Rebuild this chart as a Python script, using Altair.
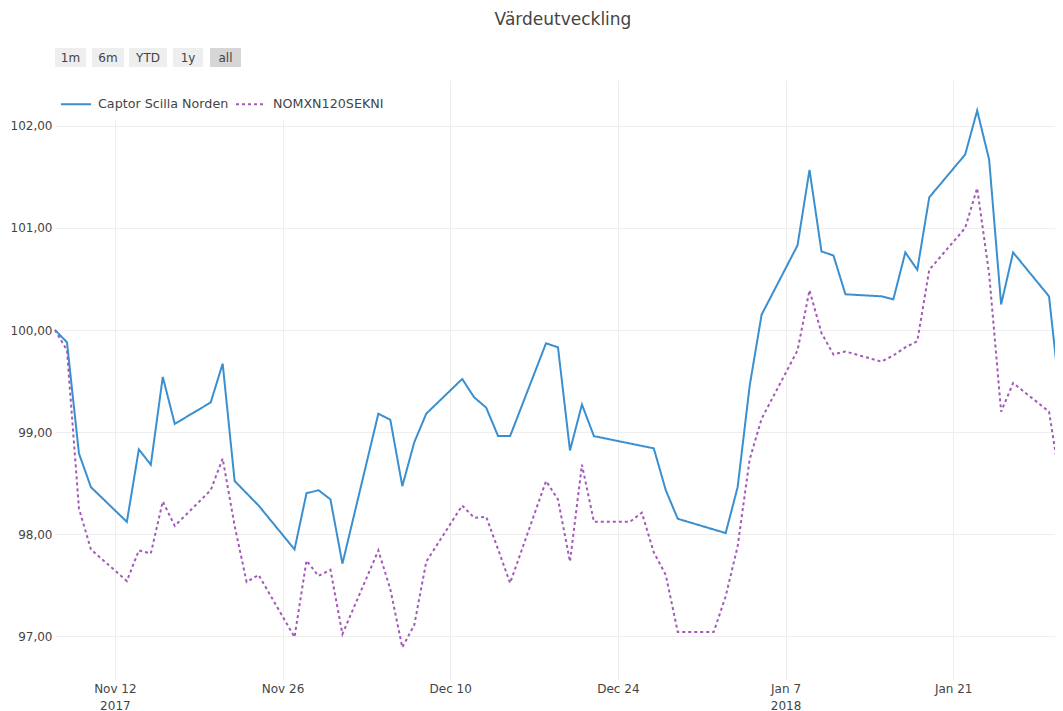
import altair as alt
import pandas as pd

# ---- data -------------------------------------------------------------
title_text = "Värdeutveckling"
series_names = ["Captor Scilla Norden", "NOMXN120SEKNI"]
series_colors = ["#3a8fd0", "#a25ab8"]

dates = [
    "2017-11-07", "2017-11-08", "2017-11-09", "2017-11-10", "2017-11-13", "2017-11-14",
    "2017-11-15", "2017-11-16", "2017-11-17", "2017-11-20", "2017-11-21", "2017-11-22",
    "2017-11-23", "2017-11-24", "2017-11-27", "2017-11-28", "2017-11-29", "2017-11-30",
    "2017-12-01", "2017-12-04", "2017-12-05", "2017-12-06", "2017-12-07", "2017-12-08",
    "2017-12-11", "2017-12-12", "2017-12-13", "2017-12-14", "2017-12-15", "2017-12-18",
    "2017-12-19", "2017-12-20", "2017-12-21", "2017-12-22", "2017-12-25", "2017-12-26",
    "2017-12-27", "2017-12-28", "2017-12-29", "2018-01-01", "2018-01-02", "2018-01-03",
    "2018-01-04", "2018-01-05", "2018-01-08", "2018-01-09", "2018-01-10", "2018-01-11",
    "2018-01-12", "2018-01-15", "2018-01-16", "2018-01-17", "2018-01-18", "2018-01-19",
    "2018-01-22", "2018-01-23", "2018-01-24", "2018-01-25", "2018-01-26", "2018-01-29",
    "2018-01-30",
]

fund_values = [
    100.00, 99.88, 98.79, 98.46, 98.12, 98.83,
    98.68, 99.54, 99.08, 99.29, 99.67, 98.52,
    98.40, 98.28, 97.85, 98.40, 98.43, 98.34,
    97.71, 99.18, 99.12, 98.47, 98.90, 99.18,
    99.52, 99.34, 99.24, 98.96, 98.96, 99.87,
    99.83, 98.82, 99.27, 98.96, None, None,
    98.84, 98.43, 98.15, None, 98.01, 98.46,
    99.45, 100.15, 100.83, 101.57, 100.77, 100.73,
    100.35, 100.33, 100.30, 100.76, 100.59, 101.30,
    101.72, 102.15, 101.67, 100.25, 100.76, 100.33,
    99.26,
]

index_values = [
    100.00, 99.80, 98.25, 97.85, 97.54, 97.84,
    97.81, 98.32, 98.08, 98.43, 98.74, 98.08,
    97.53, 97.60, 96.99, 97.74, 97.59, 97.65,
    97.02, 97.84, 97.46, 96.89, 97.11, 97.73,
    98.28, 98.16, 98.17, 97.85, 97.52, 98.52,
    98.34, 97.73, 98.68, 98.12, 98.12, 98.21,
    97.82, 97.60, 97.04, 97.04, 97.39, 97.88,
    98.73, 99.13, 99.80, 100.39, 99.97, 99.76,
    99.79, 99.69, 99.75, 99.83, 99.89, 100.59,
    101.00, 101.39, 100.55, 99.20, 99.48, 99.20,
    98.46,
]

x_tick_dates = ["2017-11-12", "2017-11-26", "2017-12-10", "2017-12-24", "2018-01-07", "2018-01-21"]
y_ticks = [97, 98, 99, 100, 101, 102]
x_domain = ["2017-11-07", "2018-01-30"]
y_domain = [96.57, 102.45]

button_labels = ["1m", "6m", "YTD", "1y", "all"]

# ---- tables -----------------------------------------------------------
rows = []
for d, f, i in zip(dates, fund_values, index_values):
    if f is not None:
        rows.append({"date": d, "series": series_names[0], "value": f})
    if i is not None:
        rows.append({"date": d, "series": series_names[1], "value": i})
df = pd.DataFrame(rows)

def ms(s):
    return int(pd.Timestamp(s, tz="UTC").value // 10**6)

x_tick_ms = [ms(s) for s in x_tick_dates]
x_domain_ms = [ms(s) for s in x_domain]

FONT = "DejaVu Sans"
TXT = "#444444"
GRID = "#eeeeee"

label_expr_x = (
    "((utcmonth(datum.value)==10 && utcdate(datum.value)==12) || "
    "(utcmonth(datum.value)==0 && utcdate(datum.value)==7)) ? "
    "[utcFormat(datum.value, '%b %-d'), utcFormat(datum.value, '%Y')] : "
    "utcFormat(datum.value, '%b %-d')"
)

# the plotted range runs slightly past the visible page edge, as in the original
lines = alt.Chart(df).mark_line(strokeWidth=2).encode(
    x=alt.X(
        "date:T",
        scale=alt.Scale(type="utc", domain=x_domain_ms, nice=False, range=[0, 1006]),
        axis=alt.Axis(
            values=x_tick_ms, labelExpr=label_expr_x, grid=True, gridColor=GRID,
            domain=False, ticks=False, labelFont=FONT, labelFontSize=12,
            labelColor=TXT, labelPadding=3, labelLineHeight=17,
            labelOverlap=False, labelFlush=False, title=None,
        ),
    ),
    y=alt.Y(
        "value:Q",
        scale=alt.Scale(domain=y_domain, nice=False, zero=False),
        axis=alt.Axis(
            values=y_ticks, labelExpr="replace(format(datum.value, '.2f'), '.', ',')",
            grid=True, gridColor=GRID, domain=False, ticks=False,
            labelFont=FONT, labelFontSize=12, labelColor=TXT, labelPadding=3,
            title=None,
        ),
    ),
    color=alt.Color(
        "series:N",
        scale=alt.Scale(domain=series_names, range=series_colors),
        title=None,
        legend=alt.Legend(
            orient="none", legendX=-3, legendY=0, direction="horizontal",
            symbolType="stroke", symbolSize=900, symbolStrokeWidth=2,
            labelFont=FONT, labelFontSize=12.7, labelColor=TXT, labelOffset=6,
            columnPadding=3, padding=8, fillColor="white",
        ),
    ),
    strokeDash=alt.StrokeDash(
        "series:N",
        scale=alt.Scale(domain=series_names, range=[[1, 0], [3, 3]]),
        title=None,
    ),
    order=alt.Order("date:T"),
)

# range-selector style buttons (decoration above the plot)
btn_df = pd.DataFrame({
    "label": button_labels,
    "x0": [0, 37, 74, 118, 155],
    "x1": [31, 69, 112, 148, 186],
    "fill": ["#eeeeee", "#eeeeee", "#eeeeee", "#eeeeee", "#d6d6d6"],
})
btn_df["xc"] = (btn_df["x0"] + btn_df["x1"]) / 2

buttons = alt.Chart(btn_df).mark_rect().encode(
    x=alt.X("x0:Q", scale=None),
    x2="x1:Q",
    y=alt.value(-32),
    y2=alt.value(-13),
    fill=alt.Fill("fill:N", scale=None, legend=None),
)
button_text = alt.Chart(btn_df).mark_text(
    font=FONT, fontSize=12, color=TXT, baseline="middle", align="center"
).encode(
    x=alt.X("xc:Q", scale=None),
    y=alt.value(-22.5),
    text="label:N",
)

title = alt.Chart(pd.DataFrame({"t": [title_text]})).mark_text(
    font=FONT, fontSize=17, color=TXT, baseline="middle", align="center"
).encode(
    x=alt.value(508),
    y=alt.value(-60),
    text="t:N",
)

chart = alt.layer(lines, buttons, button_text, title).properties(
    width=1000,
    height=600,
    autosize=alt.AutoSizeParams(type="none"),
    padding={"left": 47, "top": 72, "right": 0, "bottom": 31},
    background="white",
).configure_view(stroke=None)

chart.save("out.html", embed_options={"renderer": "svg", "actions": False})
